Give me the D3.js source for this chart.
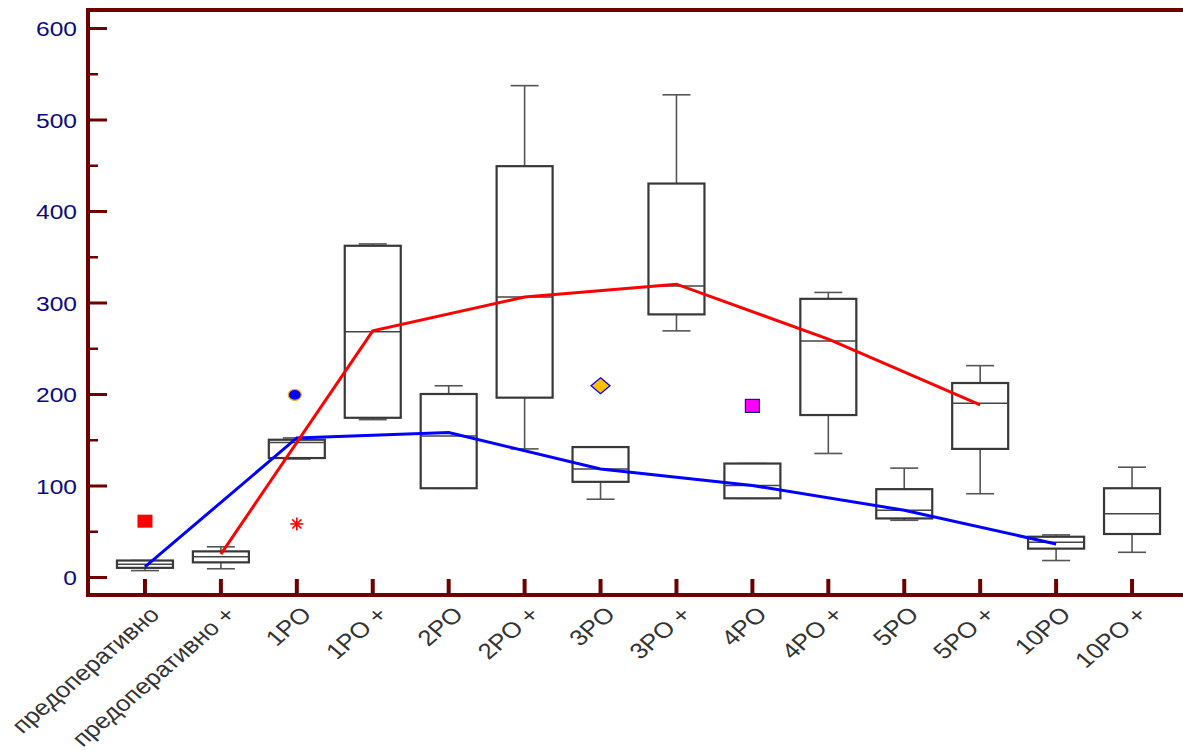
<!DOCTYPE html>
<html>
<head>
<meta charset="utf-8">
<script src="https://cdn.jsdelivr.net/npm/d3@7"></script>
<style>
  body { margin: 0; background: #fff; }
  text { font-family: "Liberation Sans", Arial, sans-serif; }
</style>
</head>
<body>
<svg id="chart" width="1183" height="750"></svg>
<script>
// Groups along the horizontal axis
const categories = [
  "предоперативно", "предоперативно +", "1PO", "1PO +", "2PO", "2PO +",
  "3PO", "3PO +", "4PO", "4PO +", "5PO", "5PO +", "10PO", "10PO +"
];

// Box-plot statistics per group
const whiskerLow  = [7,   9,  129, 172,  97, 140,  85, 269,  86, 135,  62,  91, 18, 27];
const quartile1   = [10, 16,  130, 174,  97, 196, 104, 287,  86, 177,  64, 140, 31, 47];
const medians     = [14, 22,  147, 268, 154, 306, 118, 318, 100, 258,  73, 190, 38, 69];
const quartile3   = [18, 28,  150, 362, 200, 449, 142, 430, 124, 304,  96, 212, 44, 97];
const whiskerHigh = [18, 33,  152, 364, 209, 537, 142, 527, 124, 311, 119, 231, 46, 120];

// Trend through the "+" groups
const redGroups = ["предоперативно +", "1PO +", "2PO +", "3PO +", "4PO +", "5PO +"];
const redValues = [25, 269, 306, 320, 260, 188];

// Trend through the plain groups
const blueGroups = ["предоперативно", "1PO", "2PO", "3PO", "4PO", "5PO", "10PO"];
const blueValues = [11, 152, 158, 118, 100, 73, 36];

// Individual points drawn beside the boxes
const markerGroups = ["предоперативно", "1PO", "1PO", "3PO", "4PO"];
const markerValues = [61, 199, 58, 209, 187];
const markerShapes = ["square", "circle", "asterisk", "diamond", "square2"];

const yMajorTicks = [0, 100, 200, 300, 400, 500, 600];
const yMinorTicks = [50, 150, 250, 350, 450, 550];

const svg = d3.select("#chart");
const axisColor = "#6f0000";
const stretch = 1.17;

const x = d3.scaleBand().domain(categories).range([107, 1170]);
const y = d3.scaleLinear().domain([0, 600]).range([577, 28]);
const cx = c => x(c) + x.bandwidth() / 2;

const boxW = 56, capW = 28;

// Boxes with whiskers and median
const boxes = svg.append("g").selectAll("g").data(categories).join("g");
boxes.each(function (c, i) {
  const g = d3.select(this);
  const xc = cx(c);
  g.append("line")
    .attr("x1", xc).attr("x2", xc)
    .attr("y1", y(whiskerHigh[i])).attr("y2", y(quartile3[i]))
    .attr("stroke", "#555").attr("stroke-width", 1.6);
  g.append("line")
    .attr("x1", xc).attr("x2", xc)
    .attr("y1", y(quartile1[i])).attr("y2", y(whiskerLow[i]))
    .attr("stroke", "#555").attr("stroke-width", 1.6);
  [whiskerHigh[i], whiskerLow[i]].forEach(v => {
    g.append("line")
      .attr("x1", xc - capW / 2).attr("x2", xc + capW / 2)
      .attr("y1", y(v)).attr("y2", y(v))
      .attr("stroke", "#555").attr("stroke-width", 1.6);
  });
  g.append("rect")
    .attr("x", xc - boxW / 2).attr("width", boxW)
    .attr("y", y(quartile3[i])).attr("height", y(quartile1[i]) - y(quartile3[i]))
    .attr("fill", "#fff").attr("stroke", "#383838").attr("stroke-width", 2.2);
  g.append("line")
    .attr("x1", xc - boxW / 2).attr("x2", xc + boxW / 2)
    .attr("y1", y(medians[i])).attr("y2", y(medians[i]))
    .attr("stroke", "#444").attr("stroke-width", 1.5);
});

// Trend lines
const line = d3.line().x(d => cx(d[0])).y(d => y(d[1]));
svg.append("path")
  .attr("d", line(d3.zip(blueGroups, blueValues)))
  .attr("fill", "none").attr("stroke", "#0000ff").attr("stroke-width", 3);
svg.append("path")
  .attr("d", line(d3.zip(redGroups, redValues)))
  .attr("fill", "none").attr("stroke", "#ff0000").attr("stroke-width", 3);

// Point markers
markerGroups.forEach((c, i) => {
  const px = cx(c), py = y(markerValues[i]);
  const shape = markerShapes[i];
  if (shape === "square") {
    svg.append("rect").attr("x", px - 7.5).attr("y", py - 6.5)
      .attr("width", 15).attr("height", 13).attr("fill", "#ff0000");
  } else if (shape === "square2") {
    svg.append("rect").attr("x", px - 7).attr("y", py - 6.5)
      .attr("width", 14).attr("height", 13)
      .attr("fill", "#ff00ff").attr("stroke", "#1a1a80").attr("stroke-width", 1.2);
  } else if (shape === "circle") {
    svg.append("ellipse").attr("cx", px - 2).attr("cy", py)
      .attr("rx", 6.5).attr("ry", 5.5)
      .attr("fill", "#0000ff").attr("stroke", "#f0b000").attr("stroke-width", 1.2);
  } else if (shape === "diamond") {
    svg.append("path")
      .attr("d", `M${px},${py - 8}L${px + 9.5},${py}L${px},${py + 8}L${px - 9.5},${py}Z`)
      .attr("fill", "#ffc000").attr("stroke", "#0000ff").attr("stroke-width", 1.3);
  } else if (shape === "asterisk") {
    const r = 6.5;
    const g = svg.append("g").attr("stroke", "#ff0000").attr("stroke-width", 1.6);
    [0, 45, 90, 135].forEach(a => {
      const rad = a * Math.PI / 180;
      g.append("line")
        .attr("x1", px - r * Math.cos(rad)).attr("y1", py - r * Math.sin(rad))
        .attr("x2", px + r * Math.cos(rad)).attr("y2", py + r * Math.sin(rad));
    });
  }
});

// Frame
const frame = svg.append("g").attr("stroke", axisColor).attr("stroke-width", 4);
frame.append("line").attr("x1", 86).attr("x2", 1183).attr("y1", 10).attr("y2", 10);
frame.append("line").attr("x1", 86).attr("x2", 1183).attr("y1", 595).attr("y2", 595);
frame.append("line").attr("x1", 88).attr("x2", 88).attr("y1", 8).attr("y2", 597);

// Vertical axis: major ticks with labels, minor ticks without
const yAxis = svg.append("g").attr("transform", "translate(88,0)")
  .call(d3.axisLeft(y).tickValues(yMajorTicks).tickSize(-19).tickPadding(11));
yAxis.select(".domain").remove();
yAxis.selectAll(".tick line").attr("stroke", axisColor).attr("stroke-width", 3);
yAxis.selectAll(".tick text")
  .attr("fill", "#0a0a82").attr("font-size", 21)
  .attr("font-family", "'Liberation Sans', Arial, sans-serif")
  .attr("dy", "0.36em")
  .attr("x", -11 / stretch)
  .attr("transform", `scale(${stretch},1)`);

const yMinor = svg.append("g").attr("transform", "translate(88,0)")
  .call(d3.axisLeft(y).tickValues(yMinorTicks).tickSize(-10).tickFormat(""));
yMinor.select(".domain").remove();
yMinor.selectAll(".tick line").attr("stroke", axisColor).attr("stroke-width", 2.5);

// Horizontal axis ticks
const xAxis = svg.append("g").attr("transform", "translate(0,595)")
  .call(d3.axisBottom(x).tickSize(-16).tickFormat(""));
xAxis.select(".domain").remove();
xAxis.selectAll(".tick line").attr("stroke", axisColor).attr("stroke-width", 4);

// Rotated group labels
svg.append("g").selectAll("g").data(categories).join("g")
  .attr("transform", c => `translate(${cx(c) + 16},616) scale(${stretch},1) rotate(-45)`)
  .append("text")
  .attr("text-anchor", "end")
  .attr("fill", "#333")
  .attr("font-size", 22)
  .text(c => c);
</script>
</body>
</html>
